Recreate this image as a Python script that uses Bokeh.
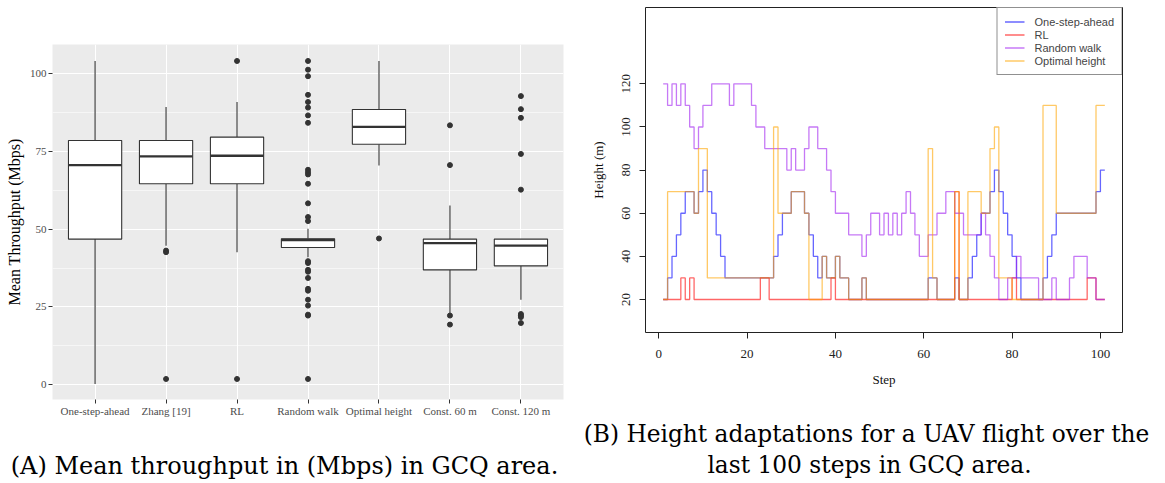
from bokeh.plotting import figure
from bokeh.layouts import row, column
from bokeh.models import FixedTicker, Legend, LegendItem, Range1d
from bokeh.core.properties import value
from bokeh.embed import file_html
from bokeh.resources import INLINE

# ---------------- (A) box plot data ----------------
methods = ["One-step-ahead", "Zhang [19]", "RL", "Random walk",
           "Optimal height", "Const. 60 m", "Const. 120 m"]
q1 = [46.8, 64.6, 64.6, 44.1, 77.3, 36.9, 38.2]
median = [70.6, 73.4, 73.6, 46.5, 82.9, 45.5, 44.7]
q3 = [78.5, 78.5, 79.6, 46.9, 88.5, 46.8, 46.8]
whisker_low = [0.2, 44.7, 42.6, 41.0, 70.5, 22.8, 27.3]
whisker_high = [104.1, 89.3, 90.9, 50.1, 104.1, 57.6, 46.8]
outliers_zhang = [43.1, 42.6, 1.8]
outliers_rl = [104.1, 1.8]
outliers_random = [104.1, 101.3, 99.2, 93.2, 90.9, 89.1, 86.6, 84.2, 69.1, 68.3,
                   67.6, 64.6, 58.3, 53.9, 52.6, 39.7, 39.1, 36.9, 36.3, 34.3,
                   30.8, 30.2, 27.3, 25.4, 22.5, 22.2, 1.8]
outliers_optimal = [47.0]
outliers_c60 = [83.4, 70.6, 22.2, 19.3]
outliers_c120 = [92.8, 88.6, 85.8, 74.2, 62.7, 22.7, 22.2, 21.7, 19.8]
y_ticks_a = [0, 25, 50, 75, 100]
caption_a = "(A) Mean throughput in (Mbps) in GCQ area."

# ---------------- (B) step data ----------------
steps = list(range(1, 102))
one_step_ahead = [20, 30, 40, 50, 60, 70, 70, 60, 70, 80,
                  70, 60, 50, 40, 30, 30, 30, 30, 30, 30,
                  30, 30, 30, 30, 30, 40, 50, 60, 60, 70,
                  70, 70, 60, 50, 40, 30, 40, 30, 30, 40,
                  30, 30, 20, 20, 20, 30, 20, 20, 20, 20,
                  20, 20, 20, 20, 20, 20, 20, 20, 20, 20,
                  30, 30, 20, 20, 20, 20, 30, 20, 20, 30,
                  40, 50, 60, 60, 70, 80, 70, 60, 50, 40,
                  30, 20, 20, 20, 20, 20, 30, 40, 50, 60,
                  60, 60, 60, 60, 60, 60, 60, 60, 70, 80,
                  80]
rl = [20, 20, 20, 20, 30, 20, 30, 20, 20, 20,
      20, 20, 20, 20, 20, 20, 20, 20, 20, 20,
      20, 20, 30, 30, 20, 20, 20, 20, 20, 20,
      20, 20, 20, 20, 20, 20, 20, 20, 30, 20,
      20, 20, 20, 20, 20, 20, 20, 20, 20, 20,
      20, 20, 20, 20, 20, 20, 20, 20, 20, 20,
      20, 20, 20, 20, 20, 20, 70, 20, 20, 20,
      20, 20, 20, 20, 20, 20, 20, 20, 20, 30,
      20, 20, 20, 20, 20, 20, 20, 20, 20, 20,
      20, 20, 20, 20, 20, 20, 30, 30, 20, 20,
      20]
random_walk = [120, 110, 120, 110, 120, 110, 100, 90, 100, 110,
               110, 120, 120, 120, 120, 110, 120, 120, 120, 120,
               110, 100, 100, 90, 90, 90, 90, 90, 80, 90,
               80, 80, 90, 100, 100, 90, 90, 80, 70, 60,
               60, 60, 50, 50, 50, 40, 50, 60, 60, 50,
               60, 50, 60, 50, 60, 70, 60, 50, 40, 40,
               50, 50, 60, 60, 70, 70, 60, 60, 50, 50,
               50, 50, 60, 50, 40, 30, 20, 20, 30, 30,
               40, 30, 30, 30, 30, 20, 20, 20, 30, 20,
               20, 20, 30, 40, 40, 40, 30, 30, 20, 20,
               20]
optimal_height = [20, 70, 70, 70, 70, 70, 70, 60, 90, 90,
                  30, 30, 30, 30, 30, 30, 30, 30, 30, 30,
                  30, 30, 30, 30, 30, 100, 60, 60, 60, 70,
                  70, 70, 60, 20, 20, 20, 40, 30, 30, 40,
                  30, 30, 20, 20, 20, 30, 20, 20, 20, 20,
                  20, 20, 20, 20, 20, 20, 20, 20, 20, 20,
                  90, 30, 20, 20, 20, 20, 70, 20, 20, 70,
                  70, 70, 60, 60, 90, 100, 30, 30, 30, 20,
                  20, 20, 20, 20, 20, 20, 110, 110, 110, 60,
                  60, 60, 60, 60, 60, 60, 60, 60, 110, 110,
                  110]
series_names = ["One-step-ahead", "RL", "Random walk", "Optimal height"]
x_ticks_b = [0, 20, 40, 60, 80, 100]
y_ticks_b = [20, 40, 60, 80, 100, 120]
caption_b = ["(B) Height adaptations for a UAV flight over the",
             "last 100 steps in GCQ area."]

SERIF = "Liberation Serif"
SANS = "Liberation Sans"
CAP = "DejaVu Serif"


def caption_figure(width, height, lines, xs_, ys_, size):
    c = figure(width=width, height=height, x_range=Range1d(0, width),
               y_range=Range1d(0, height), x_axis_type=None, y_axis_type=None,
               output_backend="svg", toolbar_location=None,
               min_border_left=0, min_border_right=0,
               min_border_top=0, min_border_bottom=0)
    c.outline_line_color = None
    c.background_fill_color = "white"
    c.border_fill_color = "white"
    c.grid.grid_line_color = None
    c.text(x=xs_, y=ys_, text=lines, text_font=value(CAP),
           text_font_size=size, text_align="center", text_baseline="middle",
           text_color="black")
    return c


# ================= Figure A =================
pA = figure(width=575, height=420, x_range=Range1d(0.4, 7.6),
            y_range=Range1d(-4.8, 109.4), output_backend="svg",
            toolbar_location=None, min_border_left=52, min_border_right=12,
            min_border_top=44, min_border_bottom=21)
pA.background_fill_color = "#EBEBEB"
pA.border_fill_color = "white"
pA.outline_line_color = None

xs = list(range(1, len(methods) + 1))
pA.xaxis.ticker = FixedTicker(ticks=xs)
pA.xaxis.major_label_overrides = {i: m for i, m in zip(xs, methods)}
pA.yaxis.ticker = FixedTicker(ticks=y_ticks_a, minor_ticks=[12.5, 37.5, 62.5, 87.5])
pA.xgrid.ticker = FixedTicker(ticks=xs)
pA.xgrid.grid_line_color = "white"
pA.xgrid.grid_line_width = 1.1
pA.ygrid.grid_line_color = "white"
pA.ygrid.grid_line_width = 1.1
pA.ygrid.minor_grid_line_color = "white"
pA.ygrid.minor_grid_line_width = 0.55

for ax in (pA.xaxis[0], pA.yaxis[0]):
    ax.axis_line_color = None
    ax.major_tick_line_color = "#333333"
    ax.major_tick_out = 4
    ax.major_tick_in = 0
    ax.minor_tick_line_color = None
    ax.major_label_text_font = SERIF
    ax.major_label_text_font_size = "11px"
    ax.major_label_text_color = "#4D4D4D"
pA.xaxis.major_label_standoff = 1
pA.yaxis.major_label_standoff = 2
pA.yaxis.axis_label = "Mean Throughput (Mbps)"
pA.yaxis.axis_label_text_font = SERIF
pA.yaxis.axis_label_text_font_size = "16px"
pA.yaxis.axis_label_text_font_style = "normal"
pA.yaxis.axis_label_text_color = "black"
pA.yaxis.axis_label_standoff = 4

box_col = "#333333"
pA.segment(x0=xs, y0=q3, x1=xs, y1=whisker_high, line_color=box_col, line_width=1.1)
pA.segment(x0=xs, y0=q1, x1=xs, y1=whisker_low, line_color=box_col, line_width=1.1)
pA.vbar(x=xs, width=0.75, top=q3, bottom=q1, fill_color="white",
        line_color=box_col, line_width=1.1)
pA.segment(x0=[x - 0.375 for x in xs], y0=median, x1=[x + 0.375 for x in xs],
           y1=median, line_color=box_col, line_width=2.4)

out_lists = [[], outliers_zhang, outliers_rl, outliers_random,
             outliers_optimal, outliers_c60, outliers_c120]
ox, oy = [], []
for x, vals in zip(xs, out_lists):
    ox += [x] * len(vals)
    oy += vals
pA.scatter(x=ox, y=oy, size=5, fill_color=box_col, line_color=box_col)

capA = caption_figure(575, 63, [caption_a], [284], [18], "24px")

# ================= Figure B =================
pB = figure(width=590, height=400, x_range=Range1d(-3, 105),
            y_range=Range1d(4.7, 155.4), output_backend="svg",
            toolbar_location=None, min_border_left=70, min_border_right=43,
            min_border_top=7, min_border_bottom=68)
pB.background_fill_color = "white"
pB.border_fill_color = "white"
pB.outline_line_color = "#222222"
pB.outline_line_width = 1
pB.xgrid.grid_line_color = None
pB.ygrid.grid_line_color = None
pB.xaxis.ticker = FixedTicker(ticks=x_ticks_b)
pB.yaxis.ticker = FixedTicker(ticks=y_ticks_b)
for ax in (pB.xaxis[0], pB.yaxis[0]):
    ax.axis_line_color = None
    ax.major_tick_line_color = "#222222"
    ax.major_tick_out = 6
    ax.major_tick_in = 0
    ax.minor_tick_line_color = None
    ax.major_label_text_font = SERIF
    ax.major_label_text_font_size = "13px"
    ax.major_label_text_color = "#222222"
    ax.axis_label_text_font = SERIF
    ax.axis_label_text_font_size = "13px"
    ax.axis_label_text_font_style = "normal"
    ax.axis_label_text_color = "#111111"
pB.xaxis.major_label_standoff = 11
pB.yaxis.major_label_standoff = 9
pB.yaxis.major_label_orientation = "vertical"
pB.xaxis.axis_label = "Step"
pB.yaxis.axis_label = "Height (m)"
pB.xaxis.axis_label_standoff = 11
pB.yaxis.axis_label_standoff = 14

colors = ["#0000FF", "#FF0000", "#A020F0", "#FFA500"]
series = [one_step_ahead, rl, random_walk, optimal_height]
items = []
for name, vals, c in zip(series_names, series, colors):
    r = pB.step(x=steps, y=vals, mode="after", line_color=c,
                line_alpha=0.6, line_width=1.3)
    items.append(LegendItem(label=name, renderers=[r]))

legend = Legend(items=items, location="top_right", margin=0, padding=7,
                spacing=0, label_text_font=SANS, label_text_font_size="11px",
                label_height=13, glyph_height=13, glyph_width=20,
                label_standoff=10, border_line_color="#222222",
                border_line_width=1, background_fill_alpha=1.0)
pB.add_layout(legend)

capB = caption_figure(590, 83, caption_b, [291, 294], [50, 19], "23.3px")

layout = row(column(pA, row(capA)), column(pB, row(capB)))
open("out.html", "w").write(file_html(layout, INLINE))
